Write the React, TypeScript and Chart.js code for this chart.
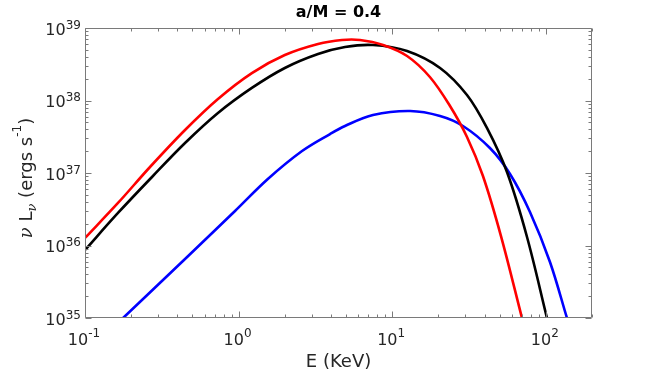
import { useEffect, useRef } from 'react';
import { Chart, registerables } from 'chart.js';

Chart.register(...registerables);

// ---- data ----
const redE = [0.1, 0.164, 0.265, 0.448, 0.734, 1.22, 2.0, 3.29, 4.71, 6.17, 8.72, 12.5, 17.6, 23.8, 30.7, 39.0, 51.1, 70.0];
const redL = [1.27e36, 3.86e36, 1.21e37, 3.92e37, 1.05e38, 2.39e38, 4.24e38, 6.02e38, 6.83e38, 6.83e38, 5.83e38, 4.11e38, 2.11e38, 8.4e37, 3.14e37, 9.09e36, 1.35e36, 1.0e35];

const blackE = [0.1, 0.164, 0.273, 0.448, 0.734, 1.22, 2.0, 3.29, 4.93, 7.5, 12.5, 20.5, 30.7, 41.4, 55.9, 75.5, 101.8];
const blackL = [8.67e35, 2.81e36, 8.81e36, 2.59e37, 6.72e37, 1.49e38, 2.81e38, 4.38e38, 5.47e38, 5.83e38, 4.82e38, 2.81e38, 1.19e38, 4.18e37, 1.03e37, 1.31e36, 1.0e35];

const blueE = [0.177, 0.448, 0.948, 1.55, 2.59, 3.94, 4.93, 7.5, 13.1, 20.5, 28.9, 43.3, 58.5, 78.9, 106.5, 137.4];
const blueL = [1.0e35, 6.51e35, 2.99e36, 8.26e36, 2.01e37, 3.45e37, 4.45e37, 6.31e37, 7.16e37, 6.11e37, 4.45e37, 2.21e37, 9.69e36, 2.9e36, 5.92e35, 1.0e35];

const xMajor = [0.1, 1, 10, 100];
const xExp = ['-1', '0', '1', '2'];
const yMajor = [1e35, 1e36, 1e37, 1e38, 1e39];
const yExp = ['35', '36', '37', '38', '39'];

const titleText = 'a/M = 0.4';
const xTitle = 'E (KeV)';

const X_MIN = 0.1;
const X_MAX = 200;
const Y_MIN = 1e35;
const Y_MAX = 1e39;

const FONT = '"DejaVu Sans", sans-serif';
const AXIS_COLOR = '#7a7a7a';
const TEXT_COLOR = '#262626';

const pts = (xs: number[], ys: number[]) => xs.map((x, i) => ({ x, y: ys[i] }));

const decor = {
  id: 'decor',
  afterDraw(chart: any) {
    const { ctx, chartArea: a, scales } = chart;
    const xs = scales.x;
    const ys = scales.y;
    ctx.save();
    // box
    ctx.strokeStyle = AXIS_COLOR;
    ctx.lineWidth = 1;
    const L = Math.round(a.left) + 0.5;
    const R = Math.round(a.right) - 0.5;
    const T = Math.round(a.top) + 0.5;
    const B = Math.round(a.bottom) - 0.5;
    ctx.beginPath();
    ctx.rect(L, T, R - L, B - T);
    ctx.stroke();

    // x ticks (bottom & top, inward)
    ctx.beginPath();
    for (let d = -1; d <= 2; d++) {
      for (let m = 1; m <= 9; m++) {
        const v = m * Math.pow(10, d);
        if (v < X_MIN * 0.999 || v > X_MAX * 1.001) continue;
        const px = Math.round(xs.getPixelForValue(v)) + 0.5;
        const len = m === 1 ? 6 : 3;
        ctx.moveTo(px, B);
        ctx.lineTo(px, B - len);
        ctx.moveTo(px, T);
        ctx.lineTo(px, T + len);
      }
    }
    // y ticks (left & right, inward)
    for (let d = 35; d <= 39; d++) {
      for (let m = 1; m <= 9; m++) {
        const v = m * Math.pow(10, d);
        if (v < Y_MIN * 0.999 || v > Y_MAX * 1.001) continue;
        const py = Math.round(ys.getPixelForValue(v)) + 0.5;
        const len = m === 1 ? 6 : 3;
        ctx.moveTo(L, py);
        ctx.lineTo(L + len, py);
        ctx.moveTo(R, py);
        ctx.lineTo(R - len, py);
      }
    }
    ctx.stroke();

    // tick labels
    ctx.fillStyle = TEXT_COLOR;
    ctx.textBaseline = 'alphabetic';
    ctx.textAlign = 'left';
    const baseFont = `16px ${FONT}`;
    const expFont = `12px ${FONT}`;
    xMajor.forEach((v, i) => {
      const px = xs.getPixelForValue(v);
      ctx.font = baseFont;
      const wb = ctx.measureText('10').width;
      ctx.font = expFont;
      const we = ctx.measureText(xExp[i]).width;
      const x0 = px - (wb + we) / 2 - 1;
      ctx.font = baseFont;
      ctx.fillText('10', x0, a.bottom + 27);
      ctx.font = expFont;
      ctx.fillText(xExp[i], x0 + wb, a.bottom + 19);
    });
    yMajor.forEach((v, i) => {
      const py = ys.getPixelForValue(v);
      ctx.font = expFont;
      const we = ctx.measureText(yExp[i]).width;
      ctx.font = baseFont;
      const wb = ctx.measureText('10').width;
      const xr = a.left - 4;
      ctx.fillText('10', xr - we - wb, py + 6.5);
      ctx.font = expFont;
      ctx.fillText(yExp[i], xr - we, py + 0.5);
    });

    // title
    ctx.fillStyle = '#000';
    ctx.textAlign = 'center';
    ctx.font = `bold 16px ${FONT}`;
    ctx.fillText(titleText, (a.left + a.right) / 2, 17);

    // x axis title
    ctx.fillStyle = TEXT_COLOR;
    ctx.font = `18px ${FONT}`;
    ctx.fillText(xTitle, (a.left + a.right) / 2, 367);

    // y axis title (rotated): \nu L_\nu (ergs s^{-1})
    const segs = [
      { t: '\u03bd', f: `italic 18px "DejaVu Serif", serif`, dy: 0 },
      { t: ' L', f: `18px ${FONT}`, dy: 0 },
      { t: '\u03bd', f: `italic 13px "DejaVu Serif", serif`, dy: 4 },
      { t: ' (ergs s', f: `18px ${FONT}`, dy: 0 },
      { t: '-1', f: `12px ${FONT}`, dy: -11 },
      { t: ')', f: `18px ${FONT}`, dy: 0 },
    ];
    let total = 0;
    const widths = segs.map((s) => {
      ctx.font = s.f;
      const w = ctx.measureText(s.t).width;
      total += w;
      return w;
    });
    ctx.translate(32, (a.top + a.bottom) / 2 + 5);
    ctx.rotate(-Math.PI / 2);
    ctx.textAlign = 'left';
    let cx = -total / 2;
    segs.forEach((s, i) => {
      ctx.font = s.f;
      ctx.fillText(s.t, cx, s.dy);
      cx += widths[i];
    });
    ctx.restore();
  },
};

export default function App() {
  const ref = useRef<HTMLCanvasElement>(null);
  useEffect(() => {
    document.body.style.margin = '0';
    document.body.style.overflow = 'hidden';
    const canvas = ref.current;
    if (!canvas) return;
    const line = { borderWidth: 2.6, pointRadius: 0, fill: false, tension: 0.35 };
    const chart = new Chart(canvas, {
      type: 'line',
      data: {
        datasets: [
          { label: 'red', data: pts(redE, redL), borderColor: '#ff0000', ...line },
          { label: 'black', data: pts(blackE, blackL), borderColor: '#000000', ...line },
          { label: 'blue', data: pts(blueE, blueL), borderColor: '#0000ff', ...line },
        ],
      },
      options: {
        responsive: false,
        animation: false,
        devicePixelRatio: 1,
        layout: { padding: { top: 28, right: 62, left: 0, bottom: 0 } },
        plugins: { legend: { display: false }, tooltip: { enabled: false }, title: { display: false } },
        scales: {
          x: {
            type: 'logarithmic',
            min: X_MIN,
            max: X_MAX,
            grid: { display: false },
            border: { display: false },
            ticks: { display: false },
            afterFit: (s: any) => { s.height = 53; },
          },
          y: {
            type: 'logarithmic',
            min: Y_MIN,
            max: Y_MAX,
            grid: { display: false },
            border: { display: false },
            ticks: { display: false },
            afterFit: (s: any) => { s.width = 85; },
          },
        },
      } as any,
      plugins: [decor],
    });
    return () => chart.destroy();
  }, []);
  return (
    <div style={{ width: 654, height: 371 }}>
      <canvas ref={ref} width={654} height={371} style={{ display: 'block' }} />
    </div>
  );
}
